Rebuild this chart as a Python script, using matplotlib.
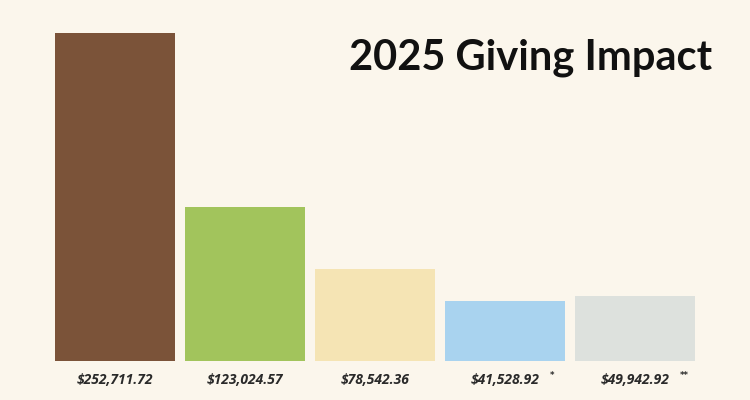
import matplotlib
matplotlib.use("Agg")
import matplotlib.pyplot as plt

TITLE = "2025 Giving Impact"
AMOUNTS = ["$252,711.72", "$123,024.57", "$78,542.36", "$41,528.92", "$49,942.92"]
MARKS = ["", "", "", "*", "**"]
# bar heights as drawn in the picture (not proportional to the amounts)
HEIGHTS = [328, 154, 92, 60, 65]
COLORS = ["#7B5339", "#A2C45C", "#F5E4B4", "#A9D3EF", "#DDE1DD"]
BG = "#FBF6EC"

fig = plt.figure(figsize=(7.5, 4), dpi=100, facecolor=BG)
ax = fig.add_axes([0, 0, 1, 1])
ax.set_facecolor(BG)

xs = list(range(len(HEIGHTS)))
ax.bar(xs, HEIGHTS, width=120 / 130, color=COLORS)
ax.set_xlim(-115 / 130, (750 - 115) / 130)
ax.set_ylim(-39, 361)
ax.axis("off")

for x, amt, mark in zip(xs, AMOUNTS, MARKS):
    ax.text(x, -19, amt, ha="center", va="center", fontsize=10,
            fontweight="bold", fontstyle="italic", color="#2a2a2a",
            family="Open Sans")
    if mark:
        ax.annotate(mark, (x, -19), xytext=(len(amt) * 3.05 + 2, 3),
                    textcoords="offset points", fontsize=6,
                    fontweight="bold", color="#2a2a2a", ha="left", va="center")

fig.text(712 / 750, 1 - 58 / 400, TITLE, ha="right", va="center",
         fontsize=30, fontweight="bold", family="Lato", color="#111111")

fig.savefig("out.png", dpi=100, facecolor=BG)
